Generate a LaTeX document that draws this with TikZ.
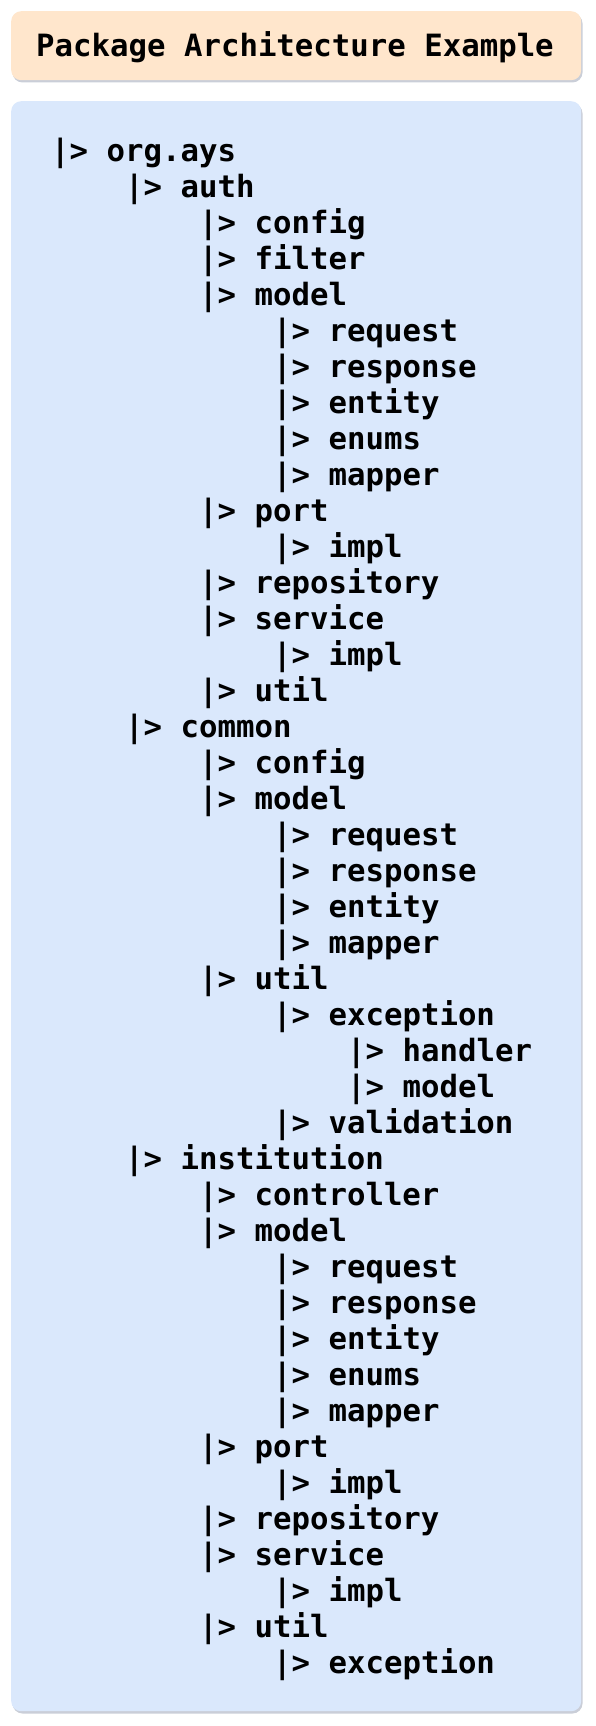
\documentclass[tikz,border=0pt]{standalone}
\usepackage{fontspec}
\newfontfamily\codefont{DejaVu Sans Mono}
\definecolor{titlefill}{HTML}{FFE6CC}
\definecolor{panelfill}{HTML}{DAE8FC}
\definecolor{shadowcol}{HTML}{9EA6B8}
\begin{document}
\begin{tikzpicture}[x=1pt,y=-1pt,
  card/.style={fill=#1, draw=none, rounded corners=10pt},
  cardshadow/.style={fill=shadowcol, fill opacity=0.55, draw=none, rounded corners=10pt},
  code/.style={inner sep=0pt, anchor=base west, text=black,
    font=\codefont\bfseries\fontsize{30.7}{36}\selectfont},
]
\useasboundingbox (0,0) rectangle (596,1726);

% title card
\fill[cardshadow] (12.5,13.5) rectangle (582.5,82.5);
\node[card=titlefill, minimum width=570pt, minimum height=69pt, inner sep=0pt,
  anchor=north west] (titlebox) at (11,11) {};
\node[code, anchor=base] (title) at (295,57) {Package Architecture Example};

% package tree panel
\fill[cardshadow] (12.5,103.5) rectangle (582.5,1713.5);
\node[card=panelfill, minimum width=570pt, minimum height=1610pt, inner sep=0pt,
  anchor=north west] (panel) at (11,101) {};

\foreach \lvl/\txt [count=\i] in {
  0/org.ays,
  1/auth, 2/config, 2/filter, 2/model,
    3/request, 3/response, 3/entity, 3/enums, 3/mapper,
    2/port, 3/impl, 2/repository, 2/service, 3/impl, 2/util,
  1/common, 2/config, 2/model,
    3/request, 3/response, 3/entity, 3/mapper,
    2/util, 3/exception, 4/handler, 4/model, 3/validation,
  1/institution, 2/controller, 2/model,
    3/request, 3/response, 3/entity, 3/enums, 3/mapper,
    2/port, 3/impl, 2/repository, 2/service, 3/impl,
    2/util, 3/exception}
  \node[code] (row\i) at ({51+74*\lvl},{161+36*(\i-1)}) {|> \txt};
\end{tikzpicture}
\end{document}
